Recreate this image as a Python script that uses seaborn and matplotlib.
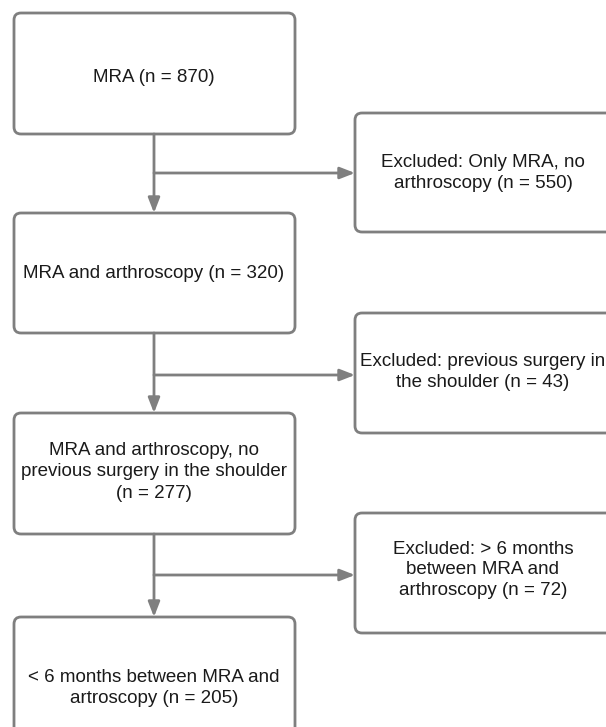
import matplotlib
matplotlib.use("Agg")
import matplotlib.pyplot as plt
import seaborn as sns
from matplotlib.patches import FancyBboxPatch

# flowchart content
main_labels = [
    "MRA (n = {})",
    "MRA and arthroscopy (n = {})",
    "MRA and arthroscopy, no\nprevious surgery in the shoulder\n(n = {})",
    "< 6 months between MRA and\nartroscopy (n = {})",
]
main_counts = [870, 320, 277, 205]

excl_labels = [
    "Excluded: Only MRA, no\narthroscopy (n = {})",
    "Excluded: previous surgery in\nthe shoulder (n = {})",
    "Excluded: > 6 months\nbetween MRA and\narthroscopy (n = {})",
]
excl_counts = [550, 43, 72]

sns.set_style("white")
plt.rcParams['font.family'] = ['Liberation Sans', 'DejaVu Sans']

fig = plt.figure(figsize=(6.06, 7.27), dpi=100)
ax = fig.add_axes([0, 0, 1, 1])
ax.set_xlim(0, 606)
ax.set_ylim(727, 0)
ax.axis("off")

edge = "#7f7f7f"
lw = 2.0

# box corners in pixels (x0, y0, x1, y1)
main_boxes = [(14, 13, 295, 134), (14, 213, 295, 333), (14, 413, 295, 534), (14, 617, 295, 760)]
main_text_y = [78, 273, 472, 688]
excl_boxes = [(355, 113, 620, 232), (355, 313, 620, 433), (355, 513, 620, 633)]
excl_text_y = [173, 372, 570]
branch_y = [173, 375, 575]
xc = 154

def box(b):
    x0, y0, x1, y1 = b
    p = FancyBboxPatch((x0, y0), x1 - x0, y1 - y0,
                       boxstyle="round,pad=0,rounding_size=7",
                       fc="white", ec=edge, lw=lw, clip_on=False)
    ax.add_patch(p)

for b, lab, n, ty in zip(main_boxes, main_labels, main_counts, main_text_y):
    box(b)
    ax.text(xc, ty, lab.format(n), ha="center", va="center",
            fontsize=13.5, color="#1a1a1a", linespacing=1.35)

for b, lab, n, ty in zip(excl_boxes, excl_labels, excl_counts, excl_text_y):
    box(b)
    ax.text(483, ty, lab.format(n), ha="center", va="center",
            fontsize=13.5, color="#1a1a1a", linespacing=1.3)

arrow_kw = dict(arrowstyle="-|>,head_length=0.9,head_width=0.35", color=edge, lw=lw,
                shrinkA=0, shrinkB=0)

for i in range(3):
    top = main_boxes[i][3]
    bot = main_boxes[i + 1][1]
    ax.annotate("", xy=(xc, bot), xytext=(xc, top), arrowprops=arrow_kw)
    ax.annotate("", xy=(excl_boxes[i][0], branch_y[i]), xytext=(xc, branch_y[i]),
                arrowprops=arrow_kw)

fig.savefig("out.png", dpi=100, facecolor="white")
